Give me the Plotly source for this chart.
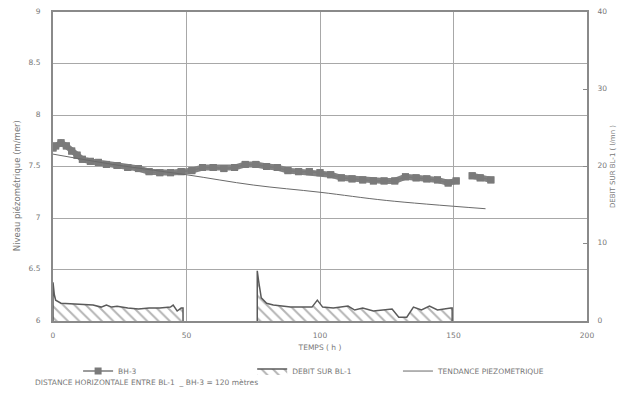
import plotly.graph_objects as go

# BH-3 piezometric level (m/mer)
bh_t = [0, 1, 3, 5, 7, 9, 11, 14, 17, 20, 24, 28, 32, 36, 40, 44, 48, 52, 56, 60,
        64, 68, 72, 76, 80, 84, 88, 92, 96, 100, 104, 108, 112, 116, 120, 124, 128,
        132, 136, 140, 144, 148, 151, 154, 157, 160, 164]
bh_v = [7.68, 7.70, 7.73, 7.70, 7.65, 7.61, 7.57, 7.55, 7.54, 7.52, 7.51, 7.49, 7.48,
        7.45, 7.44, 7.44, 7.45, 7.46, 7.49, 7.49, 7.48, 7.49, 7.52, 7.52, 7.50, 7.49,
        7.46, 7.45, 7.45, 7.44, 7.42, 7.39, 7.38, 7.37, 7.36, 7.36, 7.36, 7.40, 7.39,
        7.38, 7.37, 7.34, 7.36, None, 7.41, 7.39, 7.37]

# Tendance piezometrique
tr_t = [0, 25, 50, 75, 100, 125, 162]
tr_v = [7.62, 7.51, 7.42, 7.32, 7.25, 7.17, 7.09]

# Debit sur BL-1 (l/mn) - first pumping period
d1_t = [0, 0, 0.5, 1, 3, 8, 15, 18, 20, 22, 24, 28, 32, 36, 40, 44, 45, 46.5, 48, 48.7, 48.7]
d1_v = [0, 5.0, 3.4, 2.7, 2.3, 2.2, 2.06, 1.8, 2.06, 1.8, 1.9, 1.67, 1.54, 1.67, 1.67,
        1.8, 2.06, 1.29, 1.67, 1.67, 0]
# second pumping period
d2_t = [76.5, 76.5, 77, 77.5, 78, 80, 82.5, 89, 97, 99, 101, 105, 110.5, 113, 116, 120,
        124, 127, 129.5, 132.5, 135, 138, 141, 144, 149, 149.5, 149.5]
d2_v = [0, 6.5, 5.2, 4.0, 3.0, 2.3, 2.06, 1.8, 1.8, 2.7, 1.8, 1.67, 1.93, 1.42, 1.67,
        1.29, 1.42, 1.54, 0.5, 0.5, 1.8, 1.42, 1.93, 1.42, 1.67, 1.67, 0]

x_ticks = [0, 50, 100, 150, 200]
y_ticks = [6, 6.5, 7, 7.5, 8, 8.5, 9]
y_labels = ["6", "6.5", "7", "7.5", "8", "8.5", "9"]
y2_ticks = [0, 10, 20, 30, 40]

GRAY_TXT = "#777777"
FONT = "DejaVu Sans"

fig = go.Figure()

pattern = dict(shape="\\", fgcolor="#6a6a6a", bgcolor="white", size=8, solidity=0.25)

# thick band of the BH-3 record (no legend entry)
fig.add_trace(go.Scatter(
    x=bh_t, y=bh_v, name="BH-3", mode="lines+markers",
    line=dict(color="#828282", width=6),
    marker=dict(symbol="square", size=7, color="#7a7a7a"),
    connectgaps=False, yaxis="y", showlegend=False, legendgroup="bh"))
# same record, thin line + square markers for the legend symbol
fig.add_trace(go.Scatter(
    x=bh_t, y=bh_v, name="BH-3", mode="lines+markers",
    line=dict(color="#7a7a7a", width=1.5),
    marker=dict(symbol="square", size=7, color="#7a7a7a"),
    connectgaps=False, yaxis="y", legend="legend", legendgroup="bh"))

fig.add_trace(go.Scatter(
    x=d1_t, y=d1_v, name="DEBIT SUR BL-1", mode="lines",
    line=dict(color="#5a5a5a", width=1.5),
    fill="tozeroy", fillpattern=pattern, fillcolor="white",
    legendgroup="debit", yaxis="y2", legend="legend2"))
fig.add_trace(go.Scatter(
    x=d2_t, y=d2_v, name="DEBIT SUR BL-1", mode="lines",
    line=dict(color="#5a5a5a", width=1.5),
    fill="tozeroy", fillpattern=pattern, fillcolor="white",
    legendgroup="debit", showlegend=False, yaxis="y2", legend="legend2"))

fig.add_trace(go.Scatter(
    x=tr_t, y=tr_v, name="TENDANCE PIEZOMETRIQUE", mode="lines",
    line=dict(color="#6a6a6a", width=1, shape="spline"), yaxis="y", legend="legend3"))

leg_common = dict(orientation="h", yanchor="top", xanchor="left", y=-0.115,
                  font=dict(size=7.5, color=GRAY_TXT, family=FONT), itemwidth=30,
                  bgcolor="rgba(0,0,0,0)")

fig.update_layout(
    width=613, height=383,
    margin=dict(l=45, r=34, t=4, b=70, autoexpand=False),
    paper_bgcolor="white", plot_bgcolor="white",
    font=dict(family=FONT, size=7.5, color=GRAY_TXT),
    xaxis=dict(range=[0, 200], tickvals=x_ticks, showgrid=True, gridcolor="#a8a8a8",
               gridwidth=1.3, zeroline=False, showline=True, linecolor="#8a8a8a",
               linewidth=2, mirror=True, ticks="", ticklabelstandoff=6, automargin=False,
               ticklabeloverflow="allow",
               title=dict(text="TEMPS ( h )", standoff=6, font=dict(size=7.5))),
    yaxis=dict(range=[6, 9], tickvals=y_ticks, ticktext=y_labels,
               showgrid=True, gridcolor="#a8a8a8", gridwidth=1.3, zeroline=False,
               showline=True, linecolor="#8a8a8a", linewidth=2, ticks="",
               ticklabelstandoff=9, ticklabelshift=-1, automargin=False,
               ticklabeloverflow="allow"),
    yaxis2=dict(range=[0, 40], tickvals=y2_ticks, overlaying="y", side="right",
                showgrid=False, zeroline=False, showline=True, linecolor="#8a8a8a",
                linewidth=2, ticks="inside", ticklen=4, tickcolor="#8a8a8a",
                ticklabelstandoff=7, ticklabelshift=-1, automargin=False,
                ticklabeloverflow="allow",
                title=dict(text="DEBIT SUR BL-1 ( l/mn )", standoff=4, font=dict(size=7))),
    legend=dict(x=0.047, **leg_common),
    legend2=dict(x=0.373, **leg_common),
    legend3=dict(x=0.646, **leg_common),
    showlegend=True,
)

fig.add_annotation(
    text="Niveau piézométrique (m/mer)", textangle=-90, xref="paper", yref="paper",
    x=-0.067, y=0.437, xanchor="center", yanchor="middle", showarrow=False,
    font=dict(size=8.5, color=GRAY_TXT))

fig.add_annotation(
    text="DISTANCE HORIZONTALE ENTRE BL-1  _ BH-3 = 120 mètres", xref="paper", yref="paper",
    x=-0.038, y=-0.2, xanchor="left", yanchor="middle", showarrow=False,
    font=dict(size=7.5, color=GRAY_TXT))

fig.write_html("out.html")
